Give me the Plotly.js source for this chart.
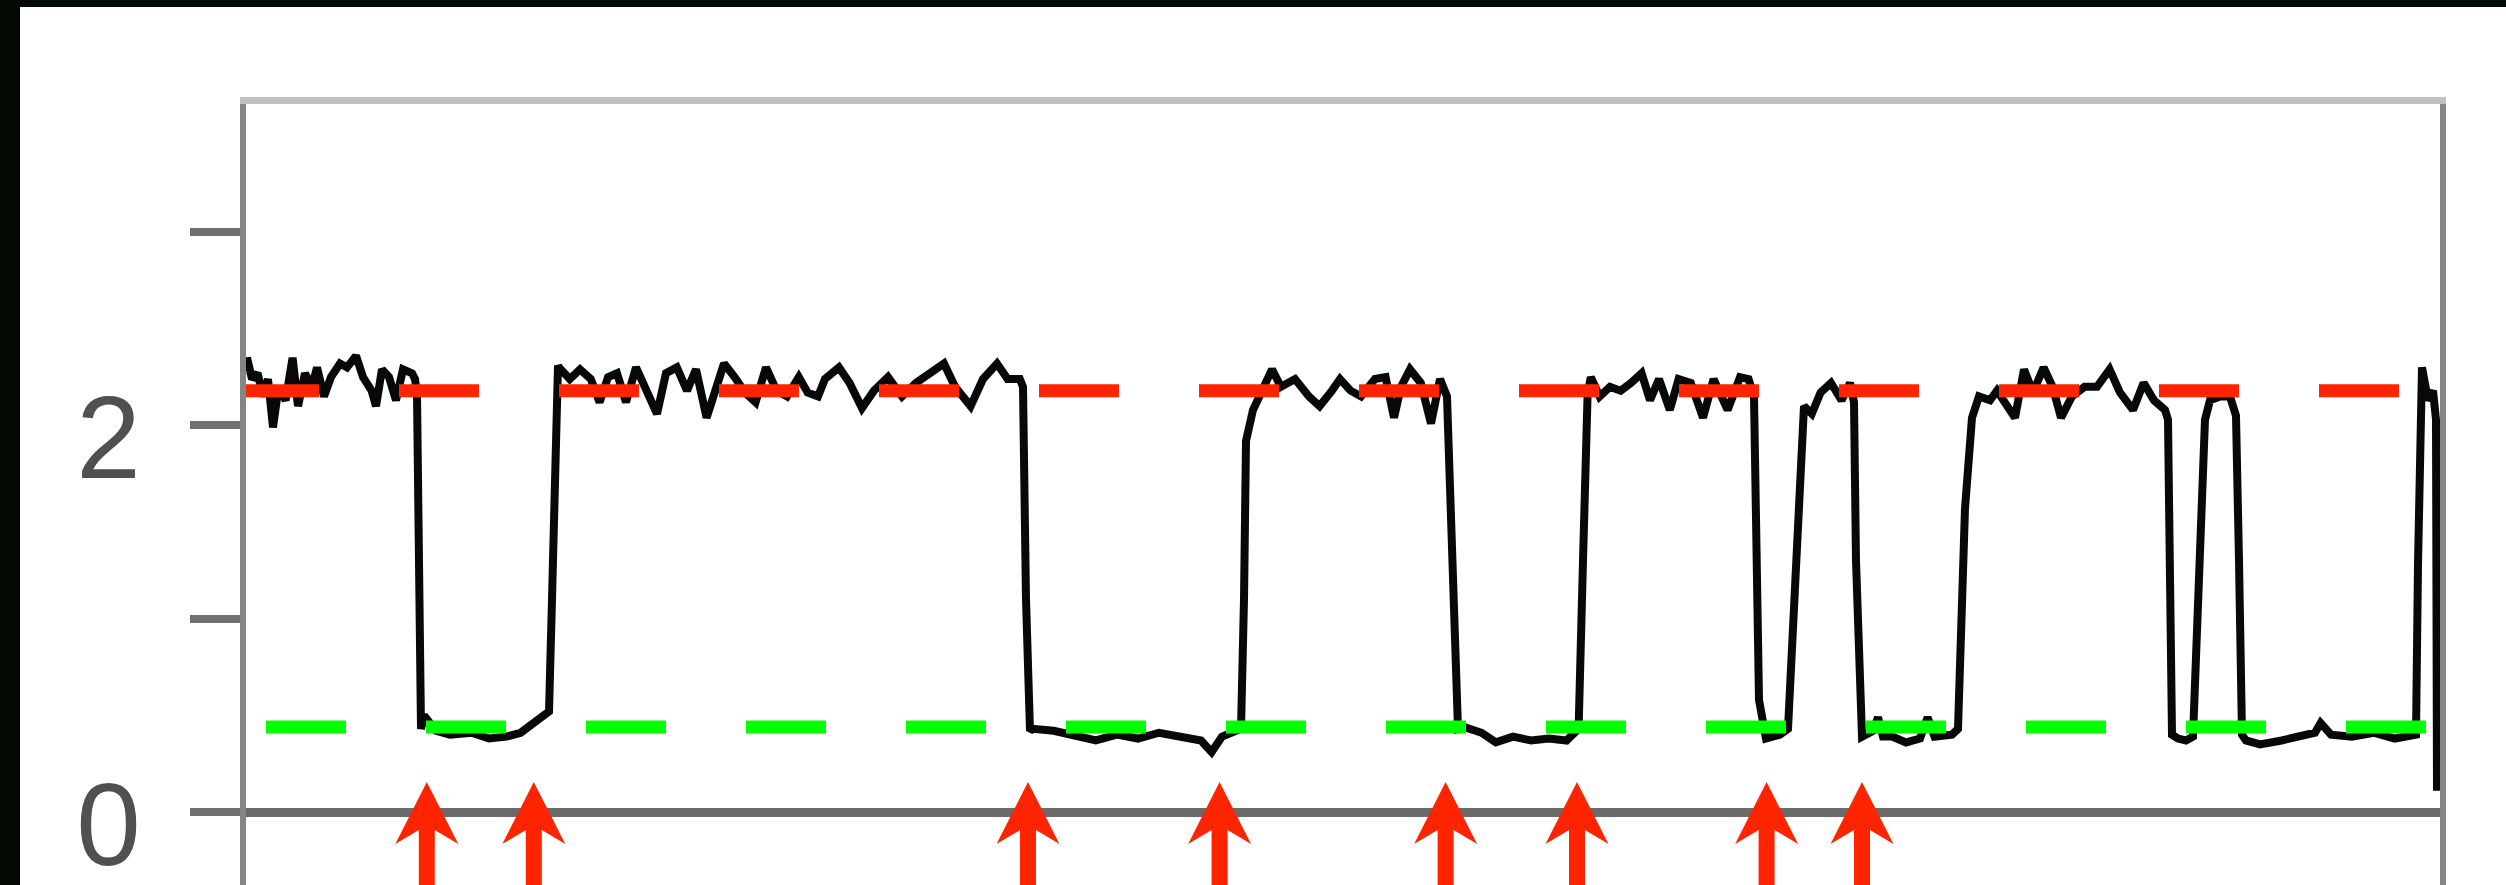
<!DOCTYPE html>
<html>
<head>
<meta charset="utf-8">
<script src="https://cdn.plot.ly/plotly-3.0.1.min.js"></script>
<style>
  html, body { margin: 0; padding: 0; width: 2506px; height: 885px; overflow: hidden; background: #020802; }
  #chart { position: absolute; left: 20px; top: 7px; width: 2486px; height: 943px; background: #fff; }
</style>
</head>
<body>
<div id="chart"></div>
<script>
// Recorded two-state signal (time in arbitrary units, level in y units)
const signalTime = [
  0,0.05,0.30,0.58,0.85,1.10,1.35,1.63,1.98,2.33,2.60,2.95,3.30,3.55,3.90,4.25,4.70,5.05,5.50,5.85,6.28,6.50,6.80,7.15,7.50,7.85,8.30,8.45,8.55,8.75,
  8.90,9.50,10.20,11.28,12.15,13.03,13.73,14.45,15.15,15.30,15.50,15.60,
  15.65,16.19,16.70,17.24,17.68,18.10,18.55,19.00,19.50,20.05,20.55,21.00,21.54,22.05,22.50,23.03,23.45,23.90,24.43,24.95,25.48,26.00,26.53,27.05,27.64,28.08,28.60,28.95,29.65,30.18,30.80,31.40,32.10,32.80,33.50,34.20,34.90,35.45,36.23,36.85,37.55,38.08,38.69,38.85,39.00,39.20,
  39.34,40.39,41.44,42.49,43.55,44.60,45.65,46.70,47.75,48.28,48.80,49.50,49.75,49.90,50.00,50.35,
  50.79,51.30,51.75,52.45,53.15,53.68,54.30,54.70,55.23,55.75,56.45,56.98,57.40,57.75,58.20,58.74,59.25,59.70,60.05,60.25,60.60,
  60.90,61.78,62.49,63.35,64.25,65.14,66.03,66.38,66.63,66.85,67.08,67.24,
  67.68,68.20,68.73,69.25,69.78,70.20,70.65,71.19,71.63,72.24,72.85,73.38,74.08,74.70,75.13,75.40,75.55,75.65,76.00,
  76.70,77.10,77.55,77.90,
  78.29,78.73,79.25,79.78,80.20,80.40,80.50,80.70,
  80.80,81.35,81.60,81.85,82.30,83.00,83.70,84.08,84.43,85.30,85.60,85.95,86.30,
  86.65,87.20,87.55,88.00,88.45,88.90,89.35,89.88,90.33,90.75,91.30,91.93,92.55,93.18,93.70,94.35,94.88,95.40,95.95,96.10,96.30,
  96.60,97.00,97.35,97.68,97.95,98.20,
  98.70,99.20,99.50,99.65,99.80,
  100.00,100.70,101.78,102.84,103.45,103.73,104.25,105.30,106.38,107.44,108.33,108.50,108.60,108.80,
  109.10,109.35,109.50,109.55
];
const signalLevel = [
  2.28,2.35,2.24,2.27,2.15,2.24,1.99,2.20,2.13,2.35,2.10,2.27,2.20,2.30,2.15,2.25,2.32,2.30,2.36,2.25,2.18,2.10,2.29,2.25,2.13,2.29,2.27,2.24,2.16,0.43,
  0.50,0.42,0.40,0.41,0.38,0.39,0.41,0.47,0.52,1.10,2.24,2.31,
  2.30,2.24,2.29,2.24,2.12,2.25,2.27,2.12,2.30,2.18,2.06,2.27,2.30,2.18,2.29,2.04,2.18,2.32,2.25,2.17,2.12,2.30,2.18,2.15,2.25,2.17,2.15,2.24,2.30,2.22,2.09,2.18,2.25,2.15,2.22,2.27,2.32,2.20,2.10,2.24,2.32,2.24,2.24,2.20,1.10,0.42,
  0.43,0.42,0.39,0.37,0.40,0.38,0.41,0.39,0.37,0.31,0.39,0.42,0.43,1.10,1.92,2.08,
  2.18,2.29,2.20,2.24,2.15,2.10,2.18,2.24,2.18,2.15,2.24,2.25,2.04,2.20,2.29,2.22,2.01,2.24,2.15,1.61,0.43,
  0.44,0.41,0.36,0.39,0.37,0.38,0.37,0.41,0.43,1.30,2.16,2.25,
  2.15,2.20,2.18,2.22,2.27,2.13,2.24,2.08,2.24,2.22,2.04,2.24,2.08,2.25,2.24,2.15,1.30,0.58,0.38,
  0.40,0.43,1.28,2.10,
  2.06,2.17,2.22,2.13,2.22,2.12,1.30,0.43,
  0.39,0.42,0.49,0.39,0.39,0.36,0.38,0.49,0.39,0.40,0.43,1.57,2.04,
  2.15,2.13,2.18,2.10,2.04,2.29,2.17,2.30,2.20,2.04,2.15,2.20,2.20,2.29,2.17,2.08,2.22,2.13,2.08,2.03,0.40,
  0.38,0.37,0.39,1.28,2.03,2.13,
  2.15,2.15,2.05,1.30,0.40,
  0.37,0.35,0.37,0.39,0.41,0.46,0.40,0.39,0.41,0.38,0.40,0.40,1.28,2.30,
  2.13,2.18,2.03,0.11
];

// Reference levels (dashed lines)
const highLevel = 2.18;
const lowLevel = 0.44;
const highLevelSpan = [-0.35, 107.65];
const lowLevelSpan = [1.0, 109.0];

// Marked events (arrows)
const eventTimes = [9.04, 14.39, 39.10, 48.68, 59.98, 66.55, 76.03, 80.80];
const eventArrowTip = 0.155;

// Axis ticks
const yTickValues = [0, 1, 2, 3];
const yTickLabels = ['0', '', '2', ''];
const timeRange = [0, 109.7];
const levelRange = [-0.714, 3.663];

const RED = '#ff2400';
const GREEN = '#00ff00';

const traces = [
  {
    x: signalTime, y: signalLevel, type: 'scatter', mode: 'lines',
    line: { color: '#080808', width: 8 }, hoverinfo: 'skip', showlegend: false
  },
  {
    x: highLevelSpan, y: [highLevel, highLevel], type: 'scatter', mode: 'lines',
    line: { color: RED, width: 13, dash: '80px,80px' }, hoverinfo: 'skip', showlegend: false
  },
  {
    x: lowLevelSpan, y: [lowLevel, lowLevel], type: 'scatter', mode: 'lines',
    line: { color: GREEN, width: 13, dash: '80px,80px' }, hoverinfo: 'skip', showlegend: false
  }
];

const arrowPath = 'M0,0 L31.5,-62 L8,-48 L8,-240 L-8,-240 L-8,-48 L-31.5,-62 Z';
const shapes = eventTimes.map(t => ({
  type: 'path', xref: 'x', yref: 'y',
  xsizemode: 'pixel', ysizemode: 'pixel',
  xanchor: t, yanchor: eventArrowTip,
  path: arrowPath,
  fillcolor: RED, line: { width: 0 }, layer: 'above'
}));

const layout = {
  width: 2486, height: 943,
  margin: { l: 226, r: 66, t: 97, b: 0, pad: 0 },
  paper_bgcolor: '#ffffff', plot_bgcolor: '#ffffff',
  showlegend: false,
  xaxis: {
    range: timeRange, side: 'top', showline: true, linecolor: '#c0c0c0', linewidth: 7,
    showticklabels: false, ticks: '', showgrid: false, zeroline: false, fixedrange: true
  },
  yaxis: {
    range: levelRange, tickvals: yTickValues, ticktext: yTickLabels,
    ticks: 'outside', ticklen: 50, tickwidth: 8, tickcolor: '#707070',
    showline: true, mirror: true, linecolor: '#858585', linewidth: 6,
    showgrid: false, zeroline: true, zerolinecolor: '#6a6a6a', zerolinewidth: 9,
    tickfont: { family: 'Liberation Sans, Arial, sans-serif', size: 116, color: '#505050' },
    ticklabelstandoff: 26, ticklabelshift: 12,
    fixedrange: true
  },
  shapes: shapes
};

Plotly.newPlot('chart', traces, layout, { displayModeBar: false, staticPlot: true });
</script>
</body>
</html>
